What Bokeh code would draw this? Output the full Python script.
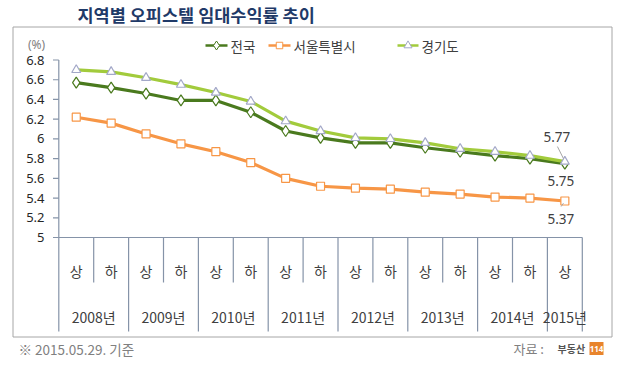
from bokeh.plotting import figure
from bokeh.models import Range1d
from bokeh.core.properties import value
from bokeh.embed import file_html
from bokeh.resources import INLINE

# ---------------- data ----------------
title = "지역별 오피스텔 임대수익률 추이"
halves = ["상", "하", "상", "하", "상", "하", "상", "하", "상", "하", "상", "하", "상", "하", "상"]
period_years = ["2008년", "2008년", "2009년", "2009년", "2010년", "2010년", "2011년", "2011년",
                "2012년", "2012년", "2013년", "2013년", "2014년", "2014년", "2015년"]
series_names = ["전국", "서울특별시", "경기도"]
national = [6.57, 6.52, 6.46, 6.39, 6.39, 6.27, 6.08, 6.01, 5.96, 5.96, 5.91, 5.87, 5.83, 5.80, 5.75]
seoul = [6.22, 6.16, 6.05, 5.95, 5.87, 5.76, 5.60, 5.52, 5.50, 5.49, 5.46, 5.44, 5.41, 5.40, 5.37]
gyeonggi = [6.70, 6.68, 6.62, 6.55, 6.47, 6.38, 6.18, 6.08, 6.01, 6.00, 5.96, 5.90, 5.87, 5.83, 5.77]
y_ticks = [5.0, 5.2, 5.4, 5.6, 5.8, 6.0, 6.2, 6.4, 6.6, 6.8]
y_tick_labels = ["5", "5.2", "5.4", "5.6", "5.8", "6", "6.2", "6.4", "6.6", "6.8"]
unit_label = "(%)"
note_text = "※ 2015.05.29. 기준"
source_text = "자료 :"
source_logo = "부동산"
source_logo_num = "114"

# ---------------- layout ----------------
W, H = 623, 359
OFF = 0                 # page offset of the canvas
X0, UX = 58.3, 34.9     # px of first category edge, px per category
Y5, UY = 237.0, 98.6    # px of value 5, px per unit

def ux(px):
    return (px - X0) / UX

def vy(py):
    return 5 + (Y5 - py) / UY

KR = value("Noto Sans CJK KR")
TXT = "#404040"
AX = "#8593A8"
C_NAT = "#4A7A1E"
C_SEO = "#F79646"
C_GG = "#A2CB3C"
C_TRI = "#A3A8C8"

p = figure(width=W, height=H, x_range=Range1d(ux(OFF), ux(OFF + W)), y_range=Range1d(vy(OFF + H), vy(OFF)),
           output_backend="svg", toolbar_location=None, min_border=0,
           x_axis_type=None, y_axis_type=None, outline_line_color=None)
p.grid.visible = False
p.background_fill_color = "white"
p.border_fill_color = "white"

# chart box
p.quad(left=ux(12.5), right=ux(611.5), top=vy(26.5), bottom=vy(336.5),
       fill_color=None, line_color="#A6A6A6", line_width=1)

# title
p.text(x=[ux(77)], y=[vy(14)], text=[title], text_font=KR, text_font_style="bold",
       text_font_size="17.5px", text_color="#1F3A68", text_align="left", text_baseline="middle")

n = len(halves)
xs = [i + 0.5 for i in range(n)]

# y axis
p.segment(x0=[0], y0=[y_ticks[0]], x1=[0], y1=[y_ticks[-1]], line_color=AX, line_width=1.2)
p.segment(x0=[ux(52.5)] * len(y_ticks), y0=y_ticks, x1=[0] * len(y_ticks), y1=y_ticks,
          line_color=AX, line_width=1.2)
p.text(x=[ux(44)] * len(y_ticks), y=y_ticks, text=y_tick_labels, text_font=value("Noto Sans"),
       text_font_size="13px", text_color="#262626", text_align="right", text_baseline="middle")
p.text(x=[ux(36)], y=[vy(44)], text=[unit_label], text_font=value("Noto Sans"),
       text_font_size="12px", text_color="#808080", text_align="center", text_baseline="middle")

# x axis + separators
p.segment(x0=[0], y0=[y_ticks[0]], x1=[n], y1=[y_ticks[0]], line_color=AX, line_width=1.2)
sep_x, sep_y1 = [], []
for i in range(n + 1):
    sep_x.append(i)
    new_year = i == 0 or i == n or period_years[i] != period_years[i - 1]
    sep_y1.append(vy(331) if new_year else vy(282))
p.segment(x0=sep_x, y0=[y_ticks[0]] * len(sep_x), x1=sep_x, y1=sep_y1, line_color=AX, line_width=1.2)

p.text(x=xs, y=[vy(270)] * n, text=halves, text_font=KR, text_font_size="14px",
       text_color=TXT, text_align="center", text_baseline="middle")
years = []
for y in period_years:
    if y not in years:
        years.append(y)
year_x = []
for y in years:
    idx = [i for i, v in enumerate(period_years) if v == y]
    year_x.append((idx[0] + idx[-1]) / 2 + 0.5)
p.text(x=year_x, y=[vy(316)] * len(years), text=years, text_font=KR, text_font_size="14px",
       text_color=TXT, text_align="center", text_baseline="middle")

# series
p.line(xs, seoul, line_color=C_SEO, line_width=3.2)
p.scatter(xs, seoul, marker="square", size=8, fill_color="white", line_color=C_SEO, line_width=1.2)
p.line(xs, national, line_color=C_NAT, line_width=3.2)
p.scatter(xs, national, marker="diamond", size=11, fill_color="white", line_color=C_NAT, line_width=1.2)
p.line(xs, gyeonggi, line_color=C_GG, line_width=3.2)
p.scatter(xs, gyeonggi, marker="triangle", size=9, fill_color="white", line_color=C_TRI, line_width=1.2)

# end labels
lx = xs[-1]
p.text(x=[lx], y=[gyeonggi[-1]], text=[f"{gyeonggi[-1]:.2f}"], x_offset=-8, y_offset=-25,
       text_font=value("Noto Sans"), text_font_size="13.5px", text_color=TXT,
       text_align="center", text_baseline="middle")
p.text(x=[lx], y=[national[-1]], text=[f"{national[-1]:.2f}"], x_offset=-4, y_offset=17,
       text_font=value("Noto Sans"), text_font_size="13.5px", text_color=TXT,
       text_align="center", text_baseline="middle")
p.text(x=[lx], y=[seoul[-1]], text=[f"{seoul[-1]:.2f}"], x_offset=-4, y_offset=18,
       text_font=value("Noto Sans"), text_font_size="13.5px", text_color=TXT,
       text_align="center", text_baseline="middle")
p.segment(x0=[lx - 7.4 / UX, lx - 3.7 / UX], y0=[gyeonggi[-1] + 15 / UY, seoul[-1] - 5.5 / UY],
          x1=[lx - 1.4 / UX, lx - 1.4 / UX], y1=[gyeonggi[-1] + 3 / UY, seoul[-1] - 2.2 / UY],
          line_color="#A6A6A6", line_width=1)

# legend
leg_y = vy(45)
leg = [(205, 227, C_NAT, "diamond", 9, C_NAT, series_names[0]),
       (268, 290, C_SEO, "square", 6.5, C_SEO, series_names[1]),
       (397, 418, C_GG, "triangle", 8, C_TRI, series_names[2])]
for a, b, col, mk, sz, mcol, name in leg:
    p.segment(x0=[ux(a)], y0=[leg_y], x1=[ux(b)], y1=[leg_y], line_color=col, line_width=2.5)
    p.scatter([ux((a + b) / 2)], [leg_y], marker=mk, size=sz, fill_color="white", line_color=mcol, line_width=1)
    p.text(x=[ux(b + 3)], y=[leg_y], text=[name], text_font=KR, text_font_size="13.5px",
           text_color=TXT, text_align="left", text_baseline="middle")

# footer
p.text(x=[ux(18)], y=[vy(348)], text=[note_text], text_font=KR, text_font_size="13.5px",
       text_color="#808080", text_align="left", text_baseline="middle")
p.text(x=[ux(513)], y=[vy(348)], text=[source_text], text_font=KR, text_font_size="13px",
       text_color="#808080", text_align="left", text_baseline="middle")
p.text(x=[ux(557)], y=[vy(348)], text=[source_logo], text_font=KR, text_font_style="bold",
       text_font_size="10px", text_color="#555555", text_align="left", text_baseline="middle")
p.quad(left=ux(589), right=ux(603), top=vy(341.5), bottom=vy(354.5), fill_color="#E8842C", line_color=None)
p.text(x=[ux(596)], y=[vy(348)], text=[source_logo_num], text_font=value("Noto Sans"),
       text_font_style="bold", text_font_size="8px", text_color="white",
       text_align="center", text_baseline="middle")

open("out.html", "w").write(file_html(p, INLINE))
